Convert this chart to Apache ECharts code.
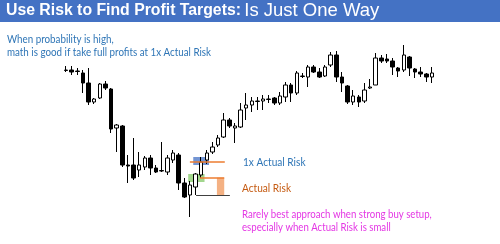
<!DOCTYPE html>
<html>
<head>
<meta charset="utf-8">
<script src="https://cdn.jsdelivr.net/npm/echarts@6/dist/echarts.min.js"></script>
<style>
  html, body { margin: 0; padding: 0; background: #fff; }
  #chart { width: 500px; height: 244px; }
</style>
</head>
<body>
<div id="chart"></div>
<script>
// bar order, one per candle
var bars = [];
for (var b = 0; b < 66; b++) bars.push(b);

// [open, close, low, high]
var candles = [
    [179.5, 180, 178, 184], [180, 178, 175, 184], [179, 178.5, 175, 182], [177, 167, 157, 180],
    [167, 148, 145, 182], [148, 151, 146, 152], [152, 166, 151, 167], [166, 162, 160, 169],
    [161, 121, 117, 162], [122, 125, 98, 126], [124, 85, 83, 125], [85, 84, 67, 95],
    [85, 72, 70, 112], [80, 85, 73, 98], [83, 92, 80, 94], [92, 82, 75, 95],
    [82, 78, 77, 85], [79, 79.5, 78, 108], [78, 92, 75, 95], [90, 97, 87, 100],
    [95, 67, 60, 97], [67, 53, 52, 72], [55, 65, 33, 69], [63, 76, 55, 77],
    [75, 88, 72, 93], [90, 97, 86, 100], [98, 103, 96, 108], [105, 112, 103, 115],
    [113, 130, 112, 137], [130, 124, 122, 132], [122, 124, 107, 127], [123, 140, 122, 147],
    [142, 145, 130, 157], [145, 149, 138, 153], [148.5, 149, 140, 153], [149, 151, 140, 155],
    [150.5, 151, 147, 155], [152, 147, 145, 153], [147, 154, 145, 158], [153, 165, 148, 168],
    [165, 157, 148, 167], [157, 177, 155, 179], [173.5, 174, 172, 177], [173, 183, 163, 185],
    [183, 178, 177, 185], [178, 173, 172, 182], [174, 183, 173, 185], [185, 195, 183, 198],
    [195, 173, 168, 199], [173, 167, 158, 178], [164, 148, 146, 165], [148, 154, 145, 160],
    [153, 148, 143, 155], [149, 160, 147, 167], [162, 163, 161, 171], [165, 192, 165, 197],
    [192, 189, 187, 195], [191, 189, 187, 196], [189, 183, 175, 192], [182, 179, 173, 183],
    [180, 195, 178, 205], [193, 182, 174, 194], [181, 178, 172, 182], [178, 176, 173, 183],
    [176, 173, 168, 177], [173, 177, 167, 183]
];

// risk annotation levels (bar index, price)
var entryZone = [[21.7, 68], [24.6, 76]];
var targetZone = [[22.6, 85], [25.4, 93]];
var targetLine = [[22, 88.5], [28.2, 88.5]];
var entryLine = [[23.8, 72.3], [28.1, 72.3]];
var stopLine = [[23.1, 55], [29.1, 55]];
var riskBar = [[26.8, 55], [28.1, 72.3]];

var myChart = echarts.init(document.getElementById('chart'));

var option = {
    animation: false,
    grid: { left: 63.2, right: 65.2, top: 40, bottom: 14 },
    xAxis: [
        { type: 'category', data: bars, show: false, boundaryGap: true },
        { type: 'value', min: -0.5, max: 65.5, show: false }
    ],
    yAxis: { type: 'value', min: 20, max: 210, show: false, scale: true },
    series: [
        {
            type: 'candlestick',
            data: candles,
            barWidth: 4,
            itemStyle: {
                color: '#ffffff',
                color0: '#000000',
                borderColor: '#000000',
                borderColor0: '#000000',
                borderWidth: 1
            },
            z: 3
        },
        {
            type: 'line',
            xAxisIndex: 1,
            data: [],
            markArea: {
                silent: true,
                data: [
                    [{ coord: entryZone[0], itemStyle: { color: 'rgba(112,192,80,0.65)' } }, { coord: entryZone[1] }],
                    [{ coord: targetZone[0], itemStyle: { color: 'rgba(68,114,196,0.75)' } }, { coord: targetZone[1] }],
                    [{ coord: riskBar[0], itemStyle: { color: '#f4b183' } }, { coord: riskBar[1] }]
                ]
            },
            markLine: {
                silent: true,
                symbol: 'none',
                label: { show: false },
                data: [
                    [{ coord: targetLine[0], lineStyle: { color: '#ed7d31', width: 1.5, type: 'solid' } }, { coord: targetLine[1] }],
                    [{ coord: entryLine[0], lineStyle: { color: '#ed7d31', width: 1.5, type: 'solid' } }, { coord: entryLine[1] }],
                    [{ coord: stopLine[0], lineStyle: { color: '#404040', width: 1.2, type: 'solid' } }, { coord: stopLine[1] }]
                ]
            },
            z: 4
        }
    ],
    graphic: [
        { type: 'rect', left: 0, top: 0, shape: { width: 500, height: 22 }, style: { fill: '#4472c4' } },
        {
            type: 'text', left: 6, top: 1,
            style: {
                text: '{b|Use Risk to Find Profit Targets:} {r|Is Just One Way}',
                rich: {
                    b: { fontFamily: 'Liberation Sans', fontWeight: 'bold', fontSize: 15.8, fill: '#fff' },
                    r: { fontFamily: 'Liberation Sans', fontSize: 18.5, fill: '#fff' }
                }
            }
        },
        { type: 'text', left: 7, top: 34, scaleX: 0.89, style: { text: 'When probability is high,', font: '11px Lato', fill: '#2e75b6' } },
        { type: 'text', left: 7, top: 47, scaleX: 0.89, style: { text: 'math is good if take full profits at 1x Actual Risk', font: '11px Lato', fill: '#2e75b6' } },
        { type: 'text', left: 243, top: 156, scaleX: 0.88, style: { text: '1x Actual Risk', font: '11.5px Lato', fill: '#2e75b6' } },
        { type: 'text', left: 242, top: 182, scaleX: 0.88, style: { text: 'Actual Risk', font: '11.5px Lato', fill: '#c55a11' } },
        { type: 'text', left: 242, top: 209, scaleX: 0.875, style: { text: 'Rarely best approach when strong buy setup,', font: '11px Lato', fill: '#e436e4' } },
        { type: 'text', left: 242, top: 222, scaleX: 0.875, style: { text: 'especially when Actual Risk is small', font: '11px Lato', fill: '#e436e4' } }
    ]
};
myChart.setOption(option);
</script>
</body>
</html>
